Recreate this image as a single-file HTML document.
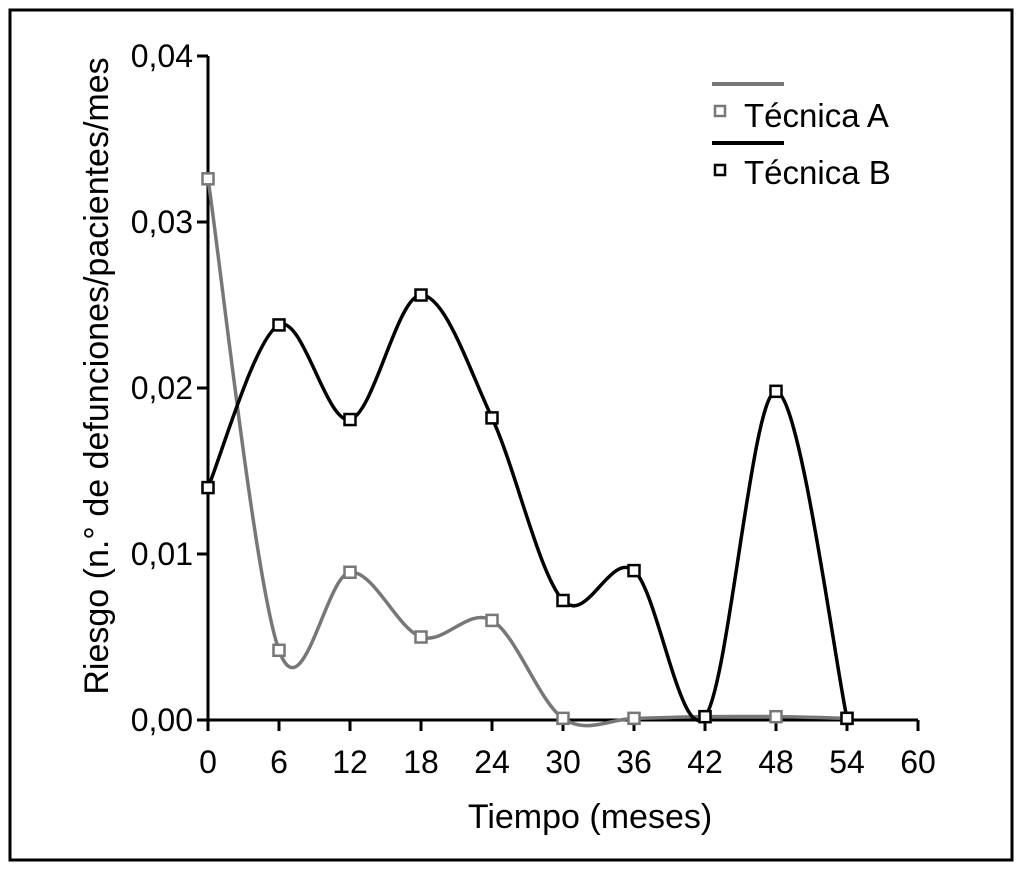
<!DOCTYPE html>
<html><head><meta charset="utf-8"><style>
html,body{margin:0;padding:0;background:#fff}
svg{display:block;font-family:"Liberation Sans",sans-serif}
</style></head><body>
<svg width="1024" height="872" viewBox="0 0 1024 872">
<rect x="10" y="10" width="1002" height="850" fill="none" stroke="#000" stroke-width="3"/>
<g id="axes"></g>
<g id="series"></g>
<text x="590" y="828" font-size="34" text-anchor="middle">Tiempo (meses)</text>
<text transform="translate(108,376) rotate(-90)" font-size="34" text-anchor="middle">Riesgo (n.° de defunciones/pacientes/mes</text>
<g>
<line x1="712" y1="84" x2="784" y2="84" stroke="#777" stroke-width="4"/>
<rect x="715" y="106" width="10" height="10" fill="#fff" stroke="#777" stroke-width="2.5"/>
<text x="744" y="127" font-size="33">Técnica A</text>
<line x1="712" y1="143" x2="784" y2="143" stroke="#000" stroke-width="4"/>
<rect x="715" y="165" width="10" height="10" fill="#fff" stroke="#000" stroke-width="2.5"/>
<text x="744" y="184" font-size="33">Técnica B</text>
</g>
</svg>
<script>
const months=[0,6,12,18,24,30,36,42,48,54];
const seriesA=[0.0326,0.0042,0.0089,0.0050,0.0060,0.0001,0.0001,0.0002,0.0002,0.0001];
const seriesB=[0.0140,0.0238,0.0181,0.0256,0.0182,0.0072,0.0090,0.0002,0.0198,0.0001];
const xTicks=[0,6,12,18,24,30,36,42,48,54,60];
const yTicks=[0,0.01,0.02,0.03,0.04];
const yTickLabels=["0,00","0,01","0,02","0,03","0,04"];
const NS="http://www.w3.org/2000/svg";
const X=v=>208+v*(918-208)/60;
const Y=v=>720-v*(720-56)/0.04;
function mk(tag,attrs,parent){const e=document.createElementNS(NS,tag);for(const k in attrs)e.setAttribute(k,attrs[k]);parent.appendChild(e);return e;}
const ax=document.getElementById('axes');
let l=mk('line',{x1:X(0),y1:Y(0),x2:X(60),y2:Y(0),stroke:'#000','stroke-width':3},ax);


l=mk('line',{x1:X(0),y1:Y(0),x2:X(0),y2:Y(0.04),stroke:'#000','stroke-width':3},ax);


xTicks.forEach(t=>{
 const tk=mk('line',{x1:X(t),y1:720,x2:X(t),y2:731,stroke:'#000','stroke-width':3},ax);
 
 
 const tx=mk('text',{x:X(t),y:773,'font-size':32,'text-anchor':'middle'},ax);tx.textContent=t;
 
 
});
yTicks.forEach((t,i)=>{
 const tk=mk('line',{x1:197,y1:Y(t),x2:208,y2:Y(t),stroke:'#000','stroke-width':3},ax);
 
 
 const tx=mk('text',{x:193,y:Y(t)+11,'font-size':32,'text-anchor':'end'},ax);tx.textContent=yTickLabels[i];
 
 
});
function path(vals){
 const p=months.map((m,i)=>[X(m),Y(vals[i])]);
 let d=`M${p[0][0]},${p[0][1]}`;
 for(let i=0;i<p.length-1;i++){
  const p0=p[i-1]||p[i],p1=p[i],p2=p[i+1],p3=p[i+2]||p[i+1];
  const c1=[p1[0]+(p2[0]-p0[0])/6,p1[1]+(p2[1]-p0[1])/6];
  const c2=[p2[0]-(p3[0]-p1[0])/6,p2[1]-(p3[1]-p1[1])/6];
  d+=` C${c1[0]},${c1[1]} ${c2[0]},${c2[1]} ${p2[0]},${p2[1]}`;
 }
 return d;
}
const sg=document.getElementById('series');
[[seriesA,'#777','a'],[seriesB,'#000','b']].forEach(([vals,col,n])=>{
 const pa=mk('path',{d:path(vals),fill:'none',stroke:col,'stroke-width':3.5},sg);
 
 
});
[[seriesA,'#777','a'],[seriesB,'#000','b']].forEach(([vals,col,n])=>{
 vals.forEach((v,i)=>{
  const r=mk('rect',{x:X(months[i])-5.5,y:Y(v)-5.5,width:11,height:11,fill:'#fff',stroke:col,'stroke-width':2.5},sg);
  
  
 });
});
</script>
</body></html>
